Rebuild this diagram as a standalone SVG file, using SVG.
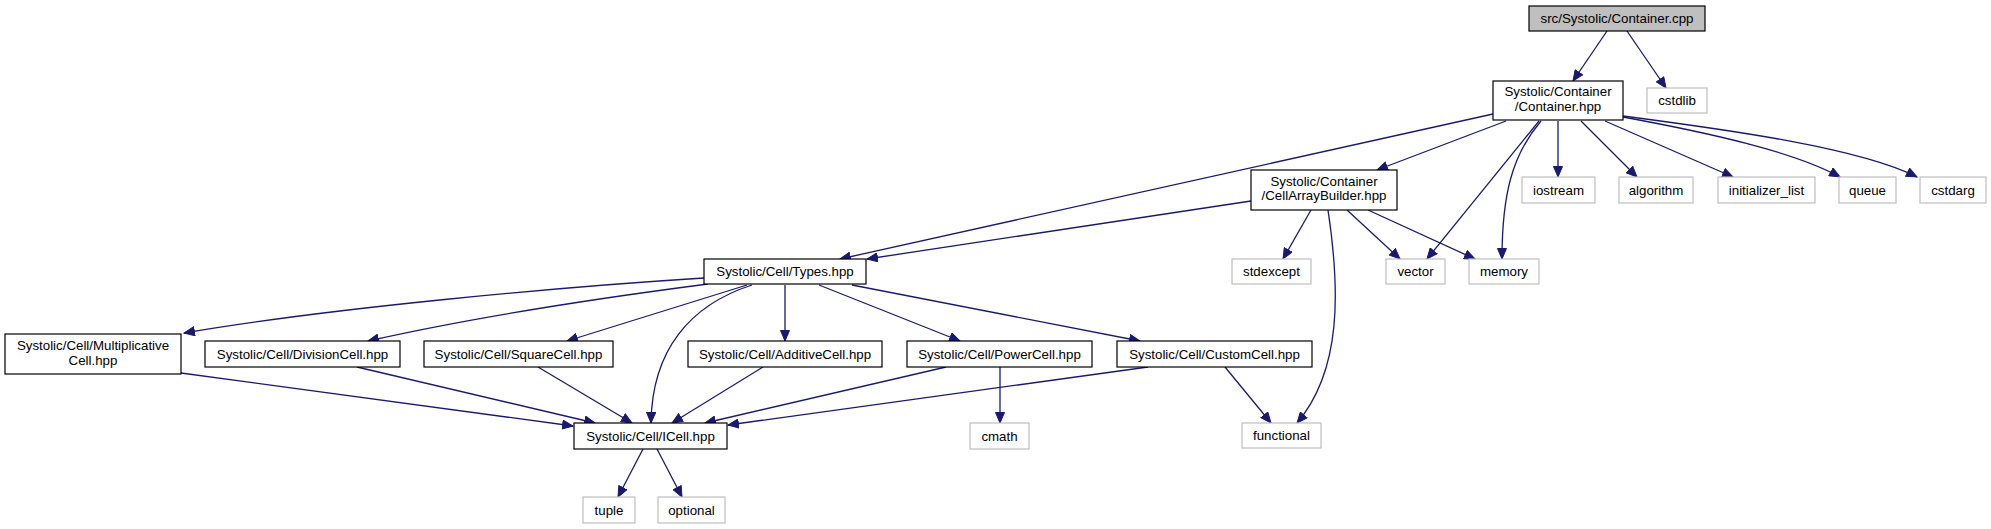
<svg xmlns="http://www.w3.org/2000/svg" width="1991" height="529" viewBox="0 0 1991 529">
<style>
  .bg { fill: #ffffff; }
  .n rect { fill: #ffffff; stroke: #000000; stroke-width: 1.2; }
  .root rect { fill: #bfbfbf; stroke: #000000; stroke-width: 1.2; }
  .ext rect { fill: #ffffff; stroke: #bfbfbf; stroke-width: 1.2; }
  text { font-family: "Liberation Sans", Arial, sans-serif; font-size: 13.3px; fill: #000000; text-anchor: middle; }
  .e path { fill: none; stroke: #191970; stroke-width: 1.3; marker-end: url(#arr); }
</style>
<defs>
  <marker id="arr" viewBox="0 0 12 10" refX="11" refY="5" markerWidth="12" markerHeight="10" markerUnits="userSpaceOnUse" orient="auto">
    <path d="M0.5,0.5 L11,5 L0.5,9.5 z" fill="#191970" stroke="#191970" stroke-width="1"/>
  </marker>
</defs>
<rect class="bg" x="0" y="0" width="1991" height="529"/>

<g id="edges" class="e">
  <path d="M1607,31 L1573,81"/>
  <path d="M1627,31 L1666,88"/>
  <path d="M1493,114 L840,259"/>
  <path d="M1506,121 L1377,170"/>
  <path d="M1539,121 L1427,259"/>
  <path d="M1541,121 C1512,155 1502,195 1502,259"/>
  <path d="M1558,121 L1558,177"/>
  <path d="M1581,121 L1637,177"/>
  <path d="M1605,121 L1733,177"/>
  <path d="M1623,117 C1710,133 1795,152 1840,177"/>
  <path d="M1623,116 C1730,130 1860,148 1917,177"/>
  <path d="M1251,201 L867,259"/>
  <path d="M1311,210 L1283,259"/>
  <path d="M1347,210 L1400,259"/>
  <path d="M1368,210 L1475,259"/>
  <path d="M1328,210 C1340,290 1342,370 1297,423"/>
  <path d="M704,278 C560,287 330,308 184,333"/>
  <path d="M708,284 C600,298 470,318 368,341"/>
  <path d="M747,285 L567,341"/>
  <path d="M752,285 C690,305 652,350 651,423"/>
  <path d="M785,285 L785,341"/>
  <path d="M819,285 L960,341"/>
  <path d="M852,285 L1140,341"/>
  <path d="M181,373 L573,426"/>
  <path d="M357,367 L595,423"/>
  <path d="M538,367 L632,423"/>
  <path d="M763,367 L672,423"/>
  <path d="M946,367 L705,423"/>
  <path d="M1148,367 L728,425"/>
  <path d="M1000,367 L1000,423"/>
  <path d="M1225,367 L1271,423"/>
  <path d="M643,449 L618,497"/>
  <path d="M657,449 L682,497"/>
</g>

<g id="node-container-cpp" class="root"><rect x="1529" y="6" width="176" height="25"/><text x="1617" y="23">src/Systolic/Container.cpp</text></g>
<g id="node-container-hpp" class="n"><rect x="1493" y="81" width="130" height="39"/><text x="1558" y="96">Systolic/Container</text><text x="1558" y="111">/Container.hpp</text></g>
<g id="node-cstdlib" class="ext"><rect x="1647" y="88" width="60" height="25"/><text x="1677" y="105">cstdlib</text></g>
<g id="node-iostream" class="ext"><rect x="1522" y="177" width="73" height="26"/><text x="1558.5" y="194.5">iostream</text></g>
<g id="node-algorithm" class="ext"><rect x="1619" y="177" width="74" height="26"/><text x="1656" y="194.5">algorithm</text></g>
<g id="node-initializer-list" class="ext"><rect x="1718" y="177" width="97" height="26"/><text x="1766.5" y="194.5">initializer_list</text></g>
<g id="node-queue" class="ext"><rect x="1839" y="177" width="57" height="26"/><text x="1867.5" y="194.5">queue</text></g>
<g id="node-cstdarg" class="ext"><rect x="1920" y="177" width="66" height="26"/><text x="1953" y="194.5">cstdarg</text></g>
<g id="node-cellarraybuilder" class="n"><rect x="1251" y="170" width="146" height="40"/><text x="1324" y="185.5">Systolic/Container</text><text x="1324" y="200">/CellArrayBuilder.hpp</text></g>
<g id="node-stdexcept" class="ext"><rect x="1232" y="259" width="79" height="25"/><text x="1271.5" y="276">stdexcept</text></g>
<g id="node-vector" class="ext"><rect x="1386" y="259" width="59" height="25"/><text x="1415.5" y="276">vector</text></g>
<g id="node-memory" class="ext"><rect x="1469" y="259" width="70" height="25"/><text x="1504" y="276">memory</text></g>
<g id="node-types" class="n"><rect x="704" y="259" width="162" height="25"/><text x="785" y="276">Systolic/Cell/Types.hpp</text></g>
<g id="node-multiplicative" class="n"><rect x="5" y="334" width="176" height="40"/><text x="93" y="350">Systolic/Cell/Multiplicative</text><text x="93" y="364.5">Cell.hpp</text></g>
<g id="node-division" class="n"><rect x="205" y="341" width="195" height="26"/><text x="302.5" y="358.5">Systolic/Cell/DivisionCell.hpp</text></g>
<g id="node-square" class="n"><rect x="424" y="341" width="189" height="26"/><text x="518.5" y="358.5">Systolic/Cell/SquareCell.hpp</text></g>
<g id="node-additive" class="n"><rect x="688" y="341" width="194" height="26"/><text x="785" y="358.5">Systolic/Cell/AdditiveCell.hpp</text></g>
<g id="node-power" class="n"><rect x="907" y="341" width="185" height="26"/><text x="999.5" y="358.5">Systolic/Cell/PowerCell.hpp</text></g>
<g id="node-custom" class="n"><rect x="1117" y="341" width="195" height="26"/><text x="1214.5" y="358.5">Systolic/Cell/CustomCell.hpp</text></g>
<g id="node-icell" class="n"><rect x="574" y="423" width="153" height="26"/><text x="650.5" y="440.5">Systolic/Cell/ICell.hpp</text></g>
<g id="node-cmath" class="ext"><rect x="970" y="423" width="59" height="26"/><text x="999.5" y="440.5">cmath</text></g>
<g id="node-functional" class="ext"><rect x="1242" y="423" width="79" height="25"/><text x="1281.5" y="440">functional</text></g>
<g id="node-tuple" class="ext"><rect x="583" y="497" width="52" height="26"/><text x="609" y="514.5">tuple</text></g>
<g id="node-optional" class="ext"><rect x="658" y="497" width="67" height="26"/><text x="691.5" y="514.5">optional</text></g>
</svg>
